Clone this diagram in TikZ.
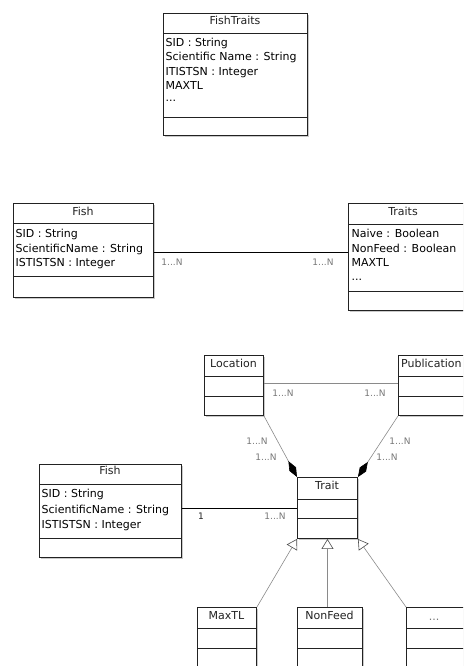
\documentclass[tikz,border=0pt]{standalone}
\usepackage{fontspec}
\setmainfont{DejaVu Sans}
\usetikzlibrary{arrows.meta,shadows}
\definecolor{boxc}{HTML}{222222}
\definecolor{lnc}{HTML}{8A8A8A}
\definecolor{lbl}{HTML}{777777}
\tikzset{
 cls/.style={draw=boxc, line width=0.95pt, fill=white, inner sep=0pt, anchor=north west,
   drop shadow={shadow xshift=1.2pt, shadow yshift=-1.2pt, opacity=0.35, fill=black!60}},
 sepline/.style={draw=boxc, line width=0.95pt},
 ctitle/.style={font=\fontsize{11}{13}\selectfont, anchor=base, inner sep=0pt, text=boxc},
 attr/.style={font=\fontsize{11}{13}\selectfont, anchor=base west, inner sep=0pt, text=black},
 mult/.style={font=\fontsize{9}{10}\selectfont, text=lbl, inner sep=0pt},
 assoc/.style={line width=0.8pt, draw=black},
 gassoc/.style={line width=0.6pt, draw=lnc},
 compo/.style={gassoc, -{Diamond[length=18pt,width=7.5pt,color=black,fill=black]}},
 gener/.style={gassoc, -{Triangle[open,length=10pt,width=12pt,color=black!70,fill=white]}},
}
\newcommand\umlcls[7]{%
 \node[cls, minimum width=#4pt, minimum height=#5pt] (#1) at (#2,#3) {};
 \draw[sepline] ([yshift=-#6pt]#1.north west) -- ([yshift=-#6pt]#1.north east);
 \draw[sepline] ([yshift=-#7pt]#1.north west) -- ([yshift=-#7pt]#1.north east);
}
\begin{document}
\begin{tikzpicture}[x=1pt,y=-1pt]
\useasboundingbox (0,0) rectangle (463,666);
\clip (0,0) rectangle (463,666);

% ---------- FishTraits ----------
\umlcls{fishtraits}{163}{13}{144}{122}{20}{104}
\node[ctitle] (ftT) at (235,24.5) {FishTraits};
\node[attr] (ft1) at (165.5,46.5) {SID : String};
\node[attr] (ft2) at (165.5,61) {Scientific Name : String};
\node[attr] (ft3) at (165.5,75.5) {ITISTSN : Integer};
\node[attr] (ft4) at (165.5,90) {MAXTL};
\node[attr] (ft5) at (165.5,102) {...};

% ---------- Fish / Traits ----------
\umlcls{fishA}{13}{203}{140}{94}{20}{73}
\node[ctitle] (faT) at (83,215.5) {Fish};
\node[attr] (fa1) at (15.5,237) {SID : String};
\node[attr] (fa2) at (15.5,252) {ScientificName : String};
\node[attr] (fa3) at (15.5,266.5) {ISTISTSN : Integer};

\umlcls{traits}{348}{203}{140}{107}{21}{88}
\node[ctitle] (trT) at (403,215.5) {Traits};
\node[attr] (tr1) at (351.5,237) {Naive : Boolean};
\node[attr] (tr2) at (351.5,252) {NonFeed : Boolean};
\node[attr] (tr3) at (351.5,266.5) {MAXTL};
\node[attr] (tr4) at (351.5,280) {...};

\draw[assoc] ([yshift=-1.7pt]fishA.east) -- ([yshift=-1.7pt]fishA.east -| traits.west);
\node[mult] (m1) at (172,262) {1...N};
\node[mult] (m2) at (323,262) {1...N};

% ---------- bottom diagram ----------
\umlcls{location}{204}{355}{59}{60}{21}{41}
\node[ctitle] (loT) at (233.5,367) {Location};
\umlcls{publication}{398}{355}{90}{60}{21}{41}
\node[ctitle, anchor=base west] (puT) at (401,367) {Publication};

\umlcls{fishB}{39}{464}{142}{93}{20}{74}
\node[ctitle] (fbT) at (110,474.5) {Fish};
\node[attr] (fb1) at (41.5,497) {SID : String};
\node[attr] (fb2) at (41.5,513) {ScientificName : String};
\node[attr] (fb3) at (41.5,528) {ISTISTSN : Integer};

\umlcls{trait}{297}{477}{60}{61}{22}{41}
\node[ctitle] (tT) at (327,489) {Trait};

\umlcls{maxtl}{197}{607}{59}{80}{21}{41}
\node[ctitle] (mxT) at (226.5,619) {MaxTL};
\umlcls{nonfeed}{297}{607}{65}{80}{21}{41}
\node[ctitle] (nfT) at (329.5,619) {NonFeed};
\umlcls{more}{406}{607}{80}{80}{21}{41}
\node[ctitle, text=lbl] (moT) at (434,620) {...};

% associations
\draw[gassoc] ([yshift=2pt]location.east) -- ([yshift=2pt]location.east -| publication.west);
\node[mult] (m3) at (283,393) {1...N};
\node[mult] (m4) at (375,393) {1...N};

\draw[compo] (location.south east) -- (trait.north west);
\draw[compo] (publication.south west) -- (trait.north east);
\node[mult] (m5) at (257,441) {1...N};
\node[mult] (m6) at (266,457) {1...N};
\node[mult] (m7) at (400,441) {1...N};
\node[mult] (m8) at (387,457) {1...N};

\draw[assoc] (trait.west -| fishB.east) -- (trait.west);
\node[mult, text=boxc] (m9) at (201,516) {1};
\node[mult] (m10) at (275,516) {1...N};

% generalizations
\draw[gener] (maxtl.north east) -- (trait.south west);
\draw[gener] (trait.south |- nonfeed.north) -- (trait.south);
\draw[gener] (more.north west) -- (trait.south east);
\end{tikzpicture}
\end{document}
